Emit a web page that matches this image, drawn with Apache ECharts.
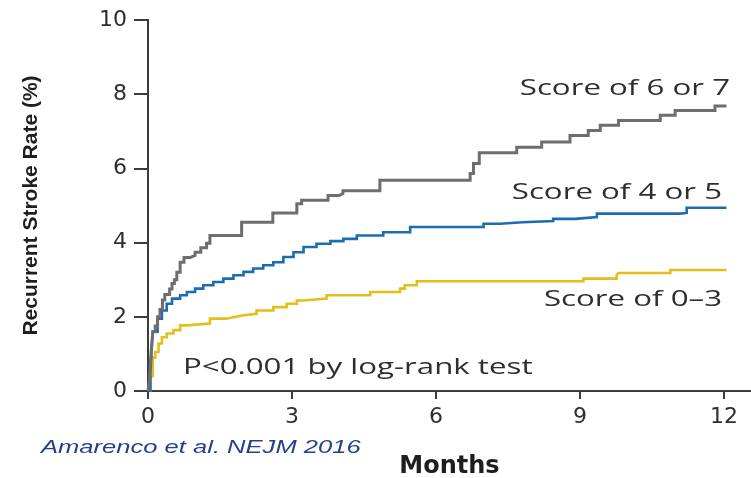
<!DOCTYPE html>
<html>
<head>
<meta charset="utf-8">
<script src="https://cdn.jsdelivr.net/npm/echarts@6/dist/echarts.min.js"></script>
<style>
html,body{margin:0;padding:0;background:#fff;}
#chart{width:751px;height:478px;}
</style>
</head>
<body>
<div id="chart"></div>
<script>
// ---- Data (months, cumulative recurrent stroke rate %) ----
const seriesNames = ["Score of 6 or 7", "Score of 4 or 5", "Score of 0\u20133"];

const score67 = [
  [0,0],[0.03,0.3],[0.05,0.8],[0.08,1.3],[0.1,1.6],[0.15,1.75],[0.2,2.0],[0.25,2.2],
  [0.3,2.45],[0.35,2.6],[0.45,2.75],[0.5,2.9],[0.55,3.0],[0.6,3.2],[0.67,3.47],
  [0.75,3.6],[0.88,3.65],[0.98,3.74],[1.1,3.86],[1.22,3.98],[1.29,4.19],[1.95,4.55],
  [2.6,4.8],[3.1,5.05],[3.2,5.14],[3.75,5.27],[3.98,5.32],[4.06,5.4],[4.83,5.68],
  [6.71,5.86],[6.78,6.13],[6.9,6.42],[7.68,6.57],[8.2,6.71],[8.79,6.89],[9.17,7.02],
  [9.42,7.16],[9.8,7.29],[10.67,7.43],[10.98,7.56],[11.81,7.68],[12.05,7.68]
];

const score45 = [
  [0,0],[0.05,0.5],[0.08,1.2],[0.1,1.6],[0.2,1.95],[0.29,2.17],[0.39,2.35],[0.5,2.49],
  [0.67,2.58],[0.81,2.67],[0.98,2.76],[1.15,2.85],[1.36,2.94],[1.57,3.03],[1.78,3.12],
  [1.99,3.21],[2.19,3.3],[2.4,3.39],[2.61,3.47],[2.82,3.61],[3.03,3.74],[3.24,3.88],
  [3.51,3.97],[3.8,4.04],[4.07,4.1],[4.35,4.19],[4.9,4.28],[5.46,4.42],[6.99,4.51],
  [7.33,4.55],[7.8,4.58],[8.44,4.64],[8.9,4.69],[9.35,4.78],[11.08,4.8],[11.22,4.94],
  [12.05,4.94]
];

const score03 = [
  [0,0],[0.05,0.4],[0.1,0.9],[0.15,1.05],[0.22,1.28],[0.29,1.45],[0.39,1.55],[0.53,1.64],
  [0.67,1.77],[0.81,1.82],[1.29,1.95],[1.63,1.99],[1.78,2.04],[1.99,2.08],[2.26,2.17],
  [2.61,2.26],[2.89,2.35],[3.1,2.44],[3.24,2.49],[3.72,2.58],[4.63,2.67],[5.25,2.76],
  [5.35,2.85],[5.6,2.96],[9.07,3.03],[9.76,3.12],[9.8,3.18],[10.88,3.26],[12.05,3.26]
];

const xTickValues = [0, 3, 6, 9, 12];
const yTickValues = [0, 2, 4, 6, 8, 10];
const xAxisTitle = "Months";
const yAxisTitle = "Recurrent Stroke Rate (%)";
const pValueText = "P<0.001 by log-rank test";
const sourceText = "Amarenco et al. NEJM 2016";

// ---- Styles ----
const colors = ["#6e6e6e", "#1b6cb0", "#e3bf1c"];
const widths = [3, 2.6, 2.6];
const axisColor = "#3c3c3c";
const textColor = "#2e2e2e";
const stretch = 1.42;

const chart = echarts.init(document.getElementById('chart'), null, {renderer: 'canvas'});

const dataSets = [score67, score45, score03];

function annot(text, x, y, align, opts) {
  opts = opts || {};
  return {
    type: 'text', x: x, y: y, scaleX: stretch, z: 100,
    style: {
      text: text, align: align, verticalAlign: 'middle',
      fontFamily: opts.family || 'Open Sans', fontSize: opts.size || 22,
      fontStyle: opts.style || 'normal', fontWeight: opts.weight || 'normal',
      fill: opts.color || textColor
    }
  };
}

const option = {
  animation: false,
  backgroundColor: '#ffffff',
  grid: {left: 148, top: 20, width: 603, height: 371, containLabel: false, outerBoundsMode: 'none'},
  xAxis: {
    type: 'value', min: 0, max: 12.56, interval: 3,
    name: xAxisTitle, nameLocation: 'middle', nameGap: 64,
    nameTextStyle: {fontFamily: 'DejaVu Sans', fontWeight: 'bold', fontSize: 24, color: '#1e1e1e'},
    axisLine: {show: true, onZero: false, lineStyle: {color: axisColor, width: 2}},
    axisTick: {show: true, inside: false, length: 8, customValues: xTickValues, lineStyle: {color: axisColor, width: 2}},
    axisLabel: {customValues: xTickValues, margin: 15, fontFamily: 'DejaVu Sans', fontSize: 22, color: textColor},
    splitLine: {show: false}
  },
  yAxis: {
    type: 'value', min: 0, max: 10, interval: 2,
    name: yAxisTitle, nameLocation: 'middle', nameGap: 106,
    nameTextStyle: {fontFamily: 'Liberation Sans', fontWeight: 'bold', fontSize: 21, color: '#1e1e1e'},
    axisLine: {show: true, onZero: false, lineStyle: {color: axisColor, width: 2}},
    axisTick: {show: true, inside: false, length: 14, customValues: yTickValues, lineStyle: {color: axisColor, width: 2}},
    axisLabel: {customValues: yTickValues, margin: 21, fontFamily: 'DejaVu Sans', fontSize: 22, color: textColor},
    splitLine: {show: false}
  },
  series: dataSets.map((d, i) => ({
    name: seriesNames[i],
    type: 'line',
    step: 'end',
    data: d,
    showSymbol: false,
    symbol: 'none',
    lineStyle: {color: colors[i], width: widths[i], join: 'miter'},
    z: 3 - i
  })),
  graphic: [
    annot(seriesNames[0], 730, 89, 'right'),
    annot(seriesNames[1], 722, 193, 'right'),
    annot(seriesNames[2], 722, 300, 'right'),
    annot(pValueText, 183, 368, 'left'),
    annot(sourceText, 41, 448, 'left', {family: 'Liberation Sans', size: 18, style: 'italic', color: '#233f8f'})
  ]
};

chart.setOption(option);
</script>
</body>
</html>
